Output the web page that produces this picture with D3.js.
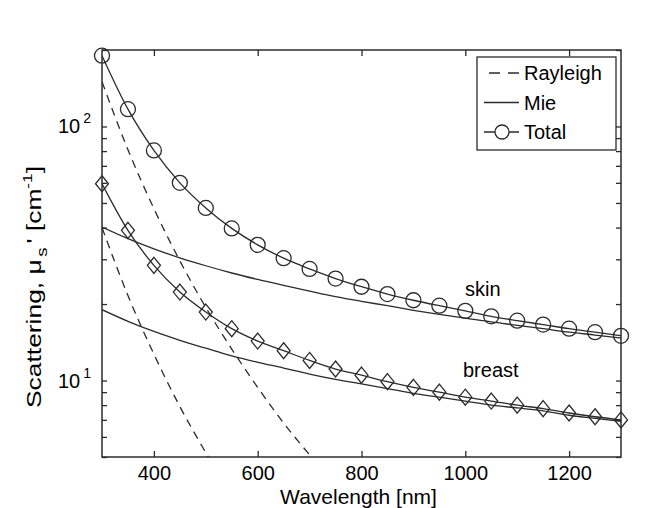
<!DOCTYPE html>
<html>
<head>
<meta charset="utf-8">
<script src="https://cdn.jsdelivr.net/npm/d3@7"></script>
<style>
  body { margin: 0; background: #fff; }
  text { font-family: "Liberation Sans", Arial, sans-serif; fill: #000; }
</style>
</head>
<body>
<div id="chart-area"></div>
<script>
// --- Data ---
var wavelengths = [300, 350, 400, 450, 500, 550, 600, 650, 700, 750, 800,
                   850, 900, 950, 1000, 1050, 1100, 1150, 1200, 1250, 1300];
var rayleighWavelengths = [300, 350, 400, 450, 500, 550, 600, 650, 700];

var skinTotal = [190, 117, 80.5, 60, 47.8, 39.7, 34.2, 30.3, 27.5, 25.2, 23.4,
                 21.9, 20.7, 19.7, 18.8, 17.9, 17.2, 16.6, 16.0, 15.5, 15.0];
var skinMie = [40.2, 36.2, 33.0, 30.4, 28.3, 26.5, 25.0, 23.7, 22.5, 21.4, 20.5,
               19.7, 18.9, 18.2, 17.6, 17.0, 16.5, 16.0, 15.5, 15.1, 14.7];
var skinRayleigh = [150, 81, 47.5, 29.6, 19.4, 13.3, 9.4, 6.8, 5.1];

var breastTotal = [59.5, 39, 28.4, 22.3, 18.6, 16.0, 14.3, 13.1, 12.0, 11.1, 10.5,
                   9.9, 9.4, 9.0, 8.6, 8.3, 8.0, 7.75, 7.45, 7.2, 7.0];
var breastMie = [19.0, 17.1, 15.6, 14.4, 13.4, 12.5, 11.8, 11.2, 10.6, 10.1, 9.7,
                 9.3, 8.9, 8.6, 8.3, 8.0, 7.8, 7.6, 7.3, 7.1, 6.9];
var breastRayleigh = [40, 21.6, 12.7, 7.9, 5.2, 3.5, 2.5, 1.8, 1.3];

var xTicks = [400, 600, 800, 1000, 1200];
var yMajorTicks = [10, 100];
var legendLabels = ["Rayleigh", "Mie", "Total"];

// --- Setup the canvas ---
var margins = {top: 50, bottom: 51, left: 102, right: 49};
var width = 670 - margins.left - margins.right;
var height = 508 - margins.top - margins.bottom;
var ink = "#2b2b2b";

var svg = d3.select("#chart-area").append("svg")
    .attr("width", 670)
    .attr("height", 508);

var group = svg.append("g")
    .attr("transform", "translate(" + margins.left + ", " + margins.top + ")");

svg.append("defs").append("clipPath")
    .attr("id", "plot-clip")
    .append("rect")
    .attr("width", width)
    .attr("height", height);

// --- Scales ---
var x = d3.scaleLinear().domain([300, 1300]).range([0, width]);
var y = d3.scaleLog().domain([5, 200]).range([height, 0]);

// --- Axes (ticks point inward, box all round) ---
var yTickValues = y.ticks();

function styleAxis(g) {
    g.select(".domain").remove();
    g.selectAll(".tick line").attr("stroke", ink).attr("stroke-width", 1.3);
    g.selectAll(".tick text").attr("font-size", "20px").attr("fill", "#000")
        .attr("font-family", "Liberation Sans, Arial, sans-serif");
}

group.append("g")
    .attr("transform", "translate(0, " + height + ")")
    .call(d3.axisBottom(x).tickValues(xTicks).tickFormat(d3.format("d"))
        .tickSizeInner(-6).tickSizeOuter(0).tickPadding(9))
    .call(styleAxis);

group.append("g")
    .call(d3.axisTop(x).tickValues(xTicks).tickSizeInner(-6).tickSizeOuter(0).tickFormat(""))
    .call(styleAxis);

group.append("g")
    .call(d3.axisLeft(y).tickValues(yTickValues).tickSizeInner(-5).tickSizeOuter(0).tickFormat(""))
    .call(styleAxis);

group.append("g")
    .attr("transform", "translate(" + width + ", 0)")
    .call(d3.axisRight(y).tickValues(yTickValues).tickSizeInner(-5).tickSizeOuter(0).tickFormat(""))
    .call(styleAxis);

// y labels as powers of ten
var yLabels = group.selectAll(".ylab").data(yMajorTicks).enter()
    .append("text")
    .attr("class", "ylab")
    .attr("x", -11)
    .attr("y", (d) => { return y(d) + 7; })
    .attr("text-anchor", "end")
    .attr("font-size", "20px");
yLabels.append("tspan").text("10");
yLabels.append("tspan")
    .attr("dy", -10)
    .attr("font-size", "14px")
    .attr("dx", 3)
    .text((d) => { return Math.round(Math.log10(d)); });

// plot frame
group.append("rect")
    .attr("width", width)
    .attr("height", height)
    .attr("fill", "none")
    .attr("stroke", ink)
    .attr("stroke-width", 1.5);

// --- Axis titles ---
group.append("text")
    .text("Wavelength [nm]")
    .attr("x", width / 2 - 3)
    .attr("y", height + 47)
    .attr("font-size", "21px")
    .attr("text-anchor", "middle");

// the original is stretched along the vertical, so the rotated title is too
var leftLabel = svg.append("text")
    .attr("transform", "translate(41, 287) rotate(-90) scale(1.32, 1)")
    .attr("text-anchor", "middle")
    .attr("font-size", "20px");
leftLabel.append("tspan").text("Scattering, \u03bc");
leftLabel.append("tspan").attr("dy", 6).attr("dx", 2).attr("font-size", "14px").text("s");
leftLabel.append("tspan").attr("dy", -6).attr("dx", 3).text("' [cm");
leftLabel.append("tspan").attr("dy", -9).attr("font-size", "13px").text("-1");
leftLabel.append("tspan").attr("dy", 9).text("]");

// --- Curves ---
var plot = group.append("g").attr("clip-path", "url(#plot-clip)");

var line = d3.line()
    .x((d) => { return x(d[0]); })
    .y((d) => { return y(d[1]); })
    .curve(d3.curveMonotoneX);

function pairs(xs, ys) { return xs.map((w, i) => { return [w, ys[i]]; }); }

var curves = [
    {values: pairs(rayleighWavelengths, skinRayleigh), dash: "8,6"},
    {values: pairs(rayleighWavelengths, breastRayleigh), dash: "8,6"},
    {values: pairs(wavelengths, skinMie), dash: null},
    {values: pairs(wavelengths, breastMie), dash: null},
    {values: pairs(wavelengths, skinTotal), dash: null},
    {values: pairs(wavelengths, breastTotal), dash: null}
];

plot.selectAll("path.curve").data(curves).enter()
    .append("path")
    .attr("class", "curve")
    .attr("d", (d) => { return line(d.values); })
    .attr("fill", "none")
    .attr("stroke", ink)
    .attr("stroke-width", 1.3)
    .attr("stroke-dasharray", (d) => { return d.dash; });

// markers (drawn unclipped, like the original)
group.selectAll("circle.total").data(pairs(wavelengths, skinTotal)).enter()
    .append("circle")
    .attr("class", "total")
    .attr("cx", (d) => { return x(d[0]); })
    .attr("cy", (d) => { return y(d[1]); })
    .attr("r", 7.5)
    .attr("fill", "none")
    .attr("stroke", ink)
    .attr("stroke-width", 1.3);

var diamond = "M0,-8L6.5,0L0,8L-6.5,0Z";
group.selectAll("path.diamond").data(pairs(wavelengths, breastTotal)).enter()
    .append("path")
    .attr("class", "diamond")
    .attr("d", diamond)
    .attr("transform", (d) => { return "translate(" + x(d[0]) + "," + y(d[1]) + ")"; })
    .attr("fill", "none")
    .attr("stroke", ink)
    .attr("stroke-width", 1.3);

// --- Annotations ---
group.append("text").text("skin")
    .attr("x", 363).attr("y", 246).attr("font-size", "20px");
group.append("text").text("breast")
    .attr("x", 361).attr("y", 327).attr("font-size", "20px");

// --- Legend ---
var legend = svg.append("g").attr("transform", "translate(477, 57)");
legend.append("rect")
    .attr("width", 139)
    .attr("height", 93)
    .attr("fill", "#fff")
    .attr("stroke", ink)
    .attr("stroke-width", 1.3);

var rows = legend.selectAll(".row").data(legendLabels).enter()
    .append("g")
    .attr("class", "row")
    .attr("transform", (d, i) => { return "translate(0, " + (16 + i * 29.5) + ")"; });

rows.append("line")
    .attr("x1", (d, i) => { return i === 0 ? 12 : 7; })
    .attr("x2", 42)
    .attr("stroke", ink)
    .attr("stroke-width", 1.3)
    .attr("stroke-dasharray", (d, i) => { return i === 0 ? "11,8" : null; });

rows.filter((d, i) => { return i === 2; })
    .append("circle")
    .attr("cx", 25)
    .attr("r", 7)
    .attr("fill", "#fff")
    .attr("stroke", ink)
    .attr("stroke-width", 1.3);

rows.append("text")
    .text((d) => { return d; })
    .attr("x", 47)
    .attr("y", 7)
    .attr("font-size", "20px");
</script>
</body>
</html>
